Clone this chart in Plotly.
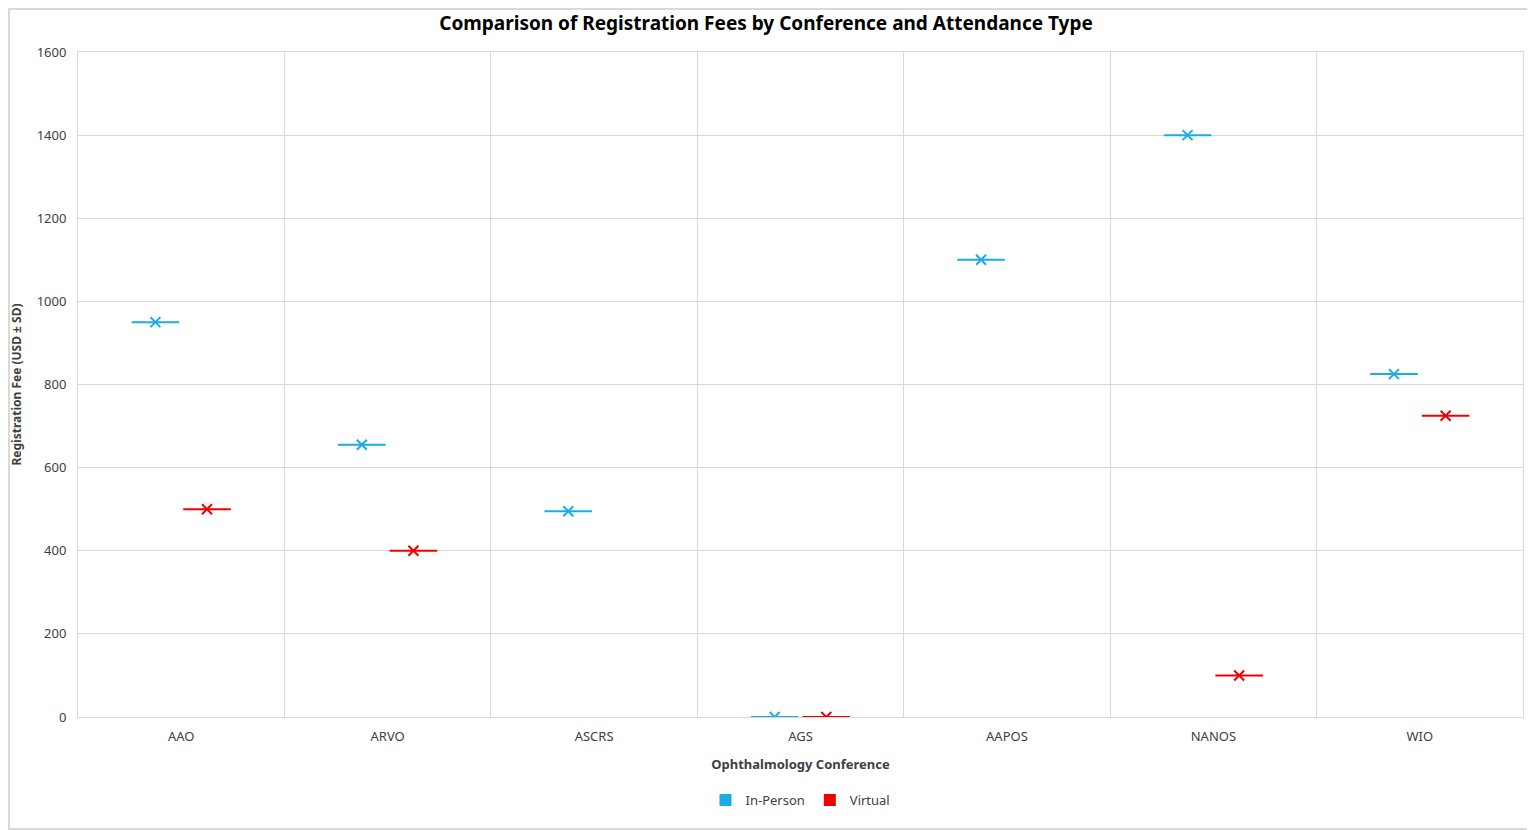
import plotly.graph_objects as go

conferences = ["AAO", "ARVO", "ASCRS", "AGS", "AAPOS", "NANOS", "WIO"]
in_person = [950, 655, 495, 0, 1100, 1400, 825]
virtual = [500, 400, None, 0, None, 100, 725]
y_ticks = [0, 200, 400, 600, 800, 1000, 1200, 1400, 1600]

BLUE = "#1AADE4"
RED = "#F00000"
FONT = "Noto Sans"

fig = go.Figure()

for name, vals, color, grp in [("In-Person", in_person, BLUE, "a"), ("Virtual", virtual, RED, "b")]:
    # horizontal line (collapsed box)
    fig.add_trace(go.Scatter(
        x=conferences, y=vals, mode="markers", offsetgroup=grp, showlegend=False,
        hoverinfo="skip",
        marker=dict(symbol="line-ew-open", size=34, color=color,
                    line=dict(color=color, width=2)),
    ))
    # mean marker
    fig.add_trace(go.Scatter(
        x=conferences, y=vals, mode="markers", offsetgroup=grp, showlegend=False,
        name=name,
        marker=dict(symbol="x-thin-open", size=10, color=color,
                    line=dict(color=color, width=2)),
    ))
    # legend entry
    fig.add_trace(go.Scatter(
        x=[None], y=[None], mode="markers", offsetgroup=grp, name=name,
        marker=dict(symbol="square", size=12, color=color),
    ))

W, H = 1527, 822
fig.update_layout(
    width=W, height=H,
    paper_bgcolor="white", plot_bgcolor="white",
    margin=dict(l=70, r=12, t=44, b=113, autoexpand=False),
    scattermode="group", scattergap=0.5,
    font=dict(family=FONT, color="#404040", size=13),
    title=dict(text="<b>Comparison of Registration Fees by Conference and Attendance Type</b>",
               x=(766 - 8) / W, xanchor="center", y=1 - 15 / H, yanchor="middle",
               font=dict(family=FONT, size=19, color="black")),
    xaxis=dict(type="category", categoryorder="array", categoryarray=conferences,
               tickson="boundaries", showgrid=True, gridcolor="#D9D9D9", gridwidth=1,
               showline=True, linecolor="#D9D9D9", mirror=True, ticks="",
               ticklabelstandoff=7, automargin=False,
               tickfont=dict(size=13, color="#404040"),
               title=dict(text="<b>Ophthalmology Conference</b>", standoff=16,
                          font=dict(size=13, color="#404040")),
               range=[-0.5, 6.5], zeroline=False),
    yaxis=dict(range=[0, 1600], tickvals=y_ticks, showgrid=True, gridcolor="#D9D9D9",
               showline=True, linecolor="#D9D9D9", mirror=True, ticks="",
               ticklabelstandoff=8, zeroline=False, automargin=False,
               tickfont=dict(size=13, color="#404040"),
               title=dict(text="<b>Registration Fee (USD ± SD)</b>", standoff=14,
                          font=dict(size=12, color="#404040"))),
    legend=dict(orientation="h", x=0.5, xanchor="center", y=-0.125, yanchor="middle",
                font=dict(size=13, color="#404040"), itemwidth=30),
    shapes=[dict(type="rect", xref="paper", yref="paper",
                 x0=-69/1445, x1=1+11/1445, y0=-112/665, y1=1+43/665,
                 line=dict(color="#D9D9D9", width=2), layer="below")],
)

fig.write_html("out.html")
